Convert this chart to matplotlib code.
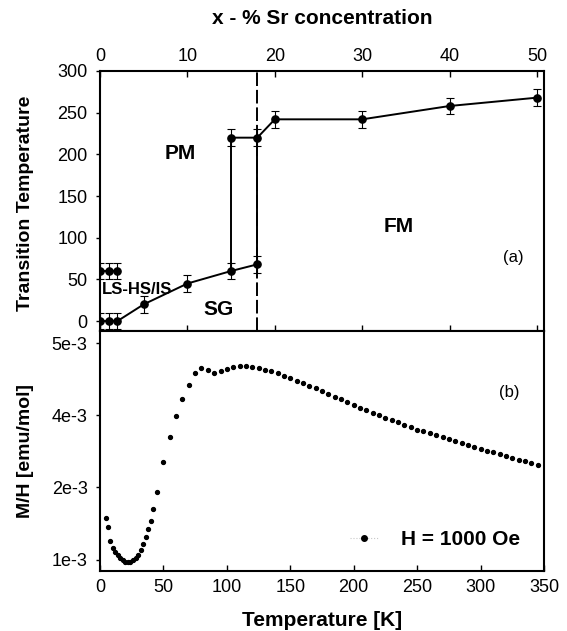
"""Phase diagram (Sr concentration) + M/H vs temperature, two stacked panels."""

import matplotlib

matplotlib.use("Agg")
import matplotlib.pyplot as plt  # noqa: E402
import numpy as np
from matplotlib.lines import Line2D

plt.rcParams["font.family"] = ["Liberation Sans", "DejaVu Sans"]

# --- panel (a): transition temperatures vs Sr concentration (%) ---
SR_LOW = [0, 1, 2, 5, 10, 15, 18]
TT_LOW = [0, 0, 0, 20, 45, 60, 68]
SR_LS = [0, 1, 2]
TT_LS = [60, 60, 60]
SR_HIGH = [15, 18, 20, 30, 40, 50]
TT_HIGH = [220, 220, 242, 242, 258, 268]
TT_ERR = 10
SR_BORDER = 18

SR_TICKS = [0, 10, 20, 30, 40, 50]
TT_TICKS = [0, 50, 100, 150, 200, 250, 300]

# --- panel (b): M/H vs T, H = 1000 Oe (values in 1e-3 emu/mol) ---
T_K = [4.5, 6, 8, 10, 12, 14, 16, 18, 20, 22, 24, 26, 28, 30, 32, 34, 36, 38, 40, 42, 45,
       50, 55, 60, 65, 70, 75, 80, 85, 90, 95, 100, 105, 110, 115, 120, 125, 130, 135,
       140, 145, 150, 155, 160, 165, 170, 175, 180, 185, 190, 195, 200, 205, 210, 215,
       220, 225, 230, 235, 240, 245, 250, 255, 260, 265, 270, 275, 280, 285, 290, 295,
       300, 305, 310, 315, 320, 325, 330, 335, 340, 345]
MH_E3 = [1.58, 1.45, 1.26, 1.16, 1.105, 1.06, 1.02, 0.99, 0.97, 0.965, 0.97, 0.99, 1.02,
         1.06, 1.13, 1.21, 1.31, 1.42, 1.54, 1.70, 1.93,
         2.71, 3.40, 3.99, 4.23, 4.42, 4.58, 4.66, 4.63, 4.585, 4.62, 4.645, 4.667, 4.68,
         4.68, 4.667, 4.654, 4.63, 4.61, 4.585, 4.55, 4.515, 4.48, 4.446, 4.41, 4.373,
         4.335, 4.30, 4.258, 4.22, 4.183, 4.141, 4.105, 4.072, 4.03, 3.998, 3.92, 3.86,
         3.80, 3.72, 3.67, 3.60, 3.56, 3.50, 3.45, 3.39, 3.34, 3.28, 3.22, 3.18, 3.12,
         3.07, 3.02, 2.97, 2.92, 2.86, 2.82, 2.77, 2.73, 2.69, 2.62]
T_TICKS = [0, 50, 100, 150, 200, 250, 300, 350]
MH_TICKS = [1e-3, 2e-3, 4e-3, 5e-3]
MH_TICK_LABELS = ["1e-3", "2e-3", "4e-3", "5e-3"]

# the original y axis puts 1e-3, 2e-3, 4e-3, 5e-3 at equal spacing
KNOT_VAL = [0.0, 1e-3, 2e-3, 4e-3, 5e-3, 1e-2]
KNOT_POS = [-1.0, 0.0, 1.0, 2.0, 3.0, 8.0]


def _fwd(v):
    return np.interp(v, KNOT_VAL, KNOT_POS)


def _inv(p):
    return np.interp(p, KNOT_POS, KNOT_VAL)


fig = plt.figure(figsize=(5.67, 6.31), dpi=100)
ax_a = fig.add_axes([0.1764, 0.4754, 0.783, 0.4121])
ax_b = fig.add_axes([0.1764, 0.0951, 0.783, 0.3803])

# ---------- (a) ----------
eb = dict(fmt="-o", color="k", ms=5.2, lw=1.4, capsize=3, elinewidth=0.8, capthick=0.8)
ax_a.errorbar(SR_LOW, TT_LOW, yerr=TT_ERR, **eb)
ax_a.errorbar(SR_LS, TT_LS, yerr=TT_ERR, **eb)
ax_a.errorbar(SR_HIGH, TT_HIGH, yerr=TT_ERR, **eb)
ax_a.vlines([SR_LOW[5], SR_LOW[6]], [TT_LOW[5], TT_LOW[6]], [TT_HIGH[0], TT_HIGH[1]],
            color="k", lw=1.4)
ax_a.axvline(SR_BORDER, color="k", lw=1.4, ls=(0, (7, 2)))

ax_a.set_xlim(0, 50.8)
ax_a.set_ylim(-12, 300)
ax_a.set_xticks(SR_TICKS)
ax_a.set_yticks(TT_TICKS)
ax_a.xaxis.tick_top()
ax_a.tick_params(axis="x", direction="in", top=True, bottom=True, labeltop=True,
                 labelbottom=False, length=4, width=1, pad=4, labelsize=13)
ax_a.tick_params(axis="y", direction="out", left=True, right=False, length=3, width=1,
                 pad=6, labelsize=13)
ax_a.set_xlabel("x - % Sr concentration", fontsize=15, fontweight="bold")
ax_a.xaxis.set_label_position("top")
ax_a.xaxis.set_label_coords(0.5, 1.18)
ax_a.set_ylabel("Transition Temperature", fontsize=14, fontweight="bold")
ax_a.yaxis.set_label_coords(-0.148, 0.49)

ax_a.text(9.2, 201, "PM", ha="center", va="center", fontsize=15, fontweight="bold")
ax_a.text(13.55, 14, "SG", ha="center", va="center", fontsize=15, fontweight="bold")
ax_a.text(34.2, 114, "FM", ha="center", va="center", fontsize=15, fontweight="bold")
ax_a.text(47.25, 76, "(a)", ha="center", va="center", fontsize=12)
ax_a.text(4.2, 38, "LS-HS/IS", ha="center", va="center", fontsize=12, fontweight="bold")

# ---------- (b) ----------
ax_b.plot(T_K, np.array(MH_E3) * 1e-3, "o", color="k", ms=2.8, ls="none")
ax_b.set_yscale("function", functions=(_fwd, _inv))
ax_b.set_xlim(0, 350)
ax_b.set_ylim(0.842e-3, 5.167e-3)
ax_b.set_xticks(T_TICKS)
ax_b.set_yticks(MH_TICKS)
ax_b.set_yticklabels(MH_TICK_LABELS)
ax_b.tick_params(axis="x", direction="in", bottom=True, top=False, length=4, width=1,
                 pad=6, labelsize=13)
ax_b.tick_params(axis="y", direction="out", left=True, right=False, length=3, width=1,
                 pad=6, labelsize=13)
ax_b.minorticks_off()
ax_b.set_xlabel("Temperature [K]", fontsize=15, fontweight="bold")
ax_b.xaxis.set_label_coords(0.5, -0.165)
ax_b.set_ylabel("M/H [emu/mol]", fontsize=14, fontweight="bold")
ax_b.yaxis.set_label_coords(-0.148, 0.5)
ax_b.text(322.8, 4.31e-3, "(b)", ha="center", va="center", fontsize=12)

handle = Line2D([], [], color="#c8c8c8", lw=0.8, ls=":", marker="o", ms=4,
                mfc="k", mec="k")
ax_b.legend([handle], ["H = 1000 Oe"], loc="center left", bbox_to_anchor=(0.563, 0.131),
            frameon=False, borderpad=0, borderaxespad=0, handlelength=1.35,
            handletextpad=1.1, prop=dict(size=15, weight="bold"))

for ax in (ax_a, ax_b):
    for spine in ax.spines.values():
        spine.set_linewidth(1.5)

fig.savefig("out.png", dpi=100)
